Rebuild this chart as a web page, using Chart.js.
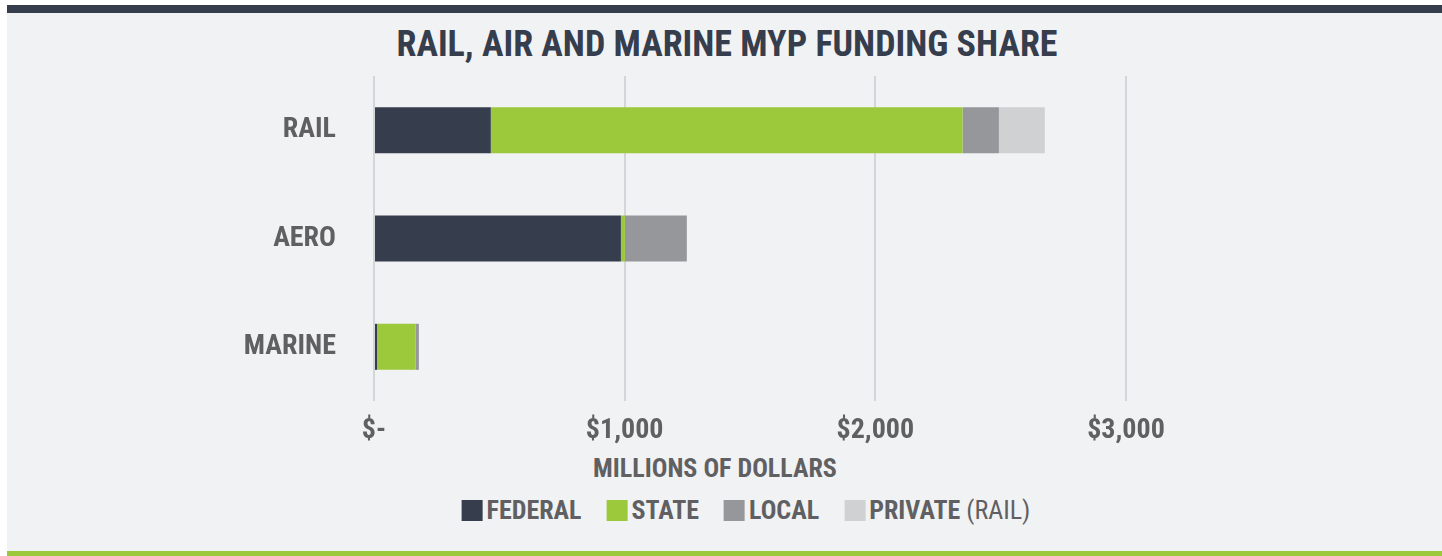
<!DOCTYPE html>
<html>
<head>
<meta charset="utf-8">
<script src="https://cdn.jsdelivr.net/npm/chart.js@4"></script>
<style>
  body { margin: 0; width: 1442px; height: 556px; background: #fff; overflow: hidden; position: relative;
         font-family: Roboto, sans-serif; font-stretch: 75%; }
  #panel { position: absolute; left: 7px; top: 5px; width: 1435px; height: 551px; background: #f1f2f4;
           border-top: 8px solid #363d4c; border-bottom: 5px solid #9bc93b; box-sizing: border-box; }
  #title { position: absolute; left: 727px; top: 26px; transform: translateX(-50%); white-space: nowrap;
           font-size: 36px; line-height: 36px; font-weight: bold; color: #363d4c; }
  #xtitle { position: absolute; left: 715px; top: 454px; transform: translateX(-50%); white-space: nowrap;
            font-size: 26px; line-height: 28px; font-weight: bold; color: #606062; }
  #legend { position: absolute; left: 746px; top: 496px; transform: translateX(-50%); white-space: nowrap;
            display: flex; gap: 25px; font-size: 26px; line-height: 28px; font-weight: bold; color: #606062; }
  #legend .item { display: flex; align-items: center; }
  #legend .box { width: 21px; height: 21px; margin-right: 4px; }
  #legend .note { font-weight: normal; }
  canvas { position: absolute; left: 0; top: 0; }
</style>
</head>
<body>
<div id="panel"></div>
<div id="title">RAIL, AIR AND MARINE MYP FUNDING SHARE</div>
<div id="xtitle">MILLIONS OF DOLLARS</div>
<div id="legend"></div>
<canvas id="chart" width="1442" height="556"></canvas>
<script>
// millions of dollars
const categories = ['RAIL', 'AERO', 'MARINE'];
const federal = [466, 985, 12];
const state = [1882, 16, 154];
const local = [145, 247, 13];
const privateRail = [183, 0, 0];

const seriesNames = ['FEDERAL', 'STATE', 'LOCAL', 'PRIVATE'];
const seriesNotes = ['', '', '', '(RAIL)'];
const seriesColors = ['#363d4c', '#9bc93b', '#96979b', '#d0d1d3'];
const xTicks = [0, 1000, 2000, 3000];

// legend
const legendEl = document.getElementById('legend');
seriesNames.forEach((name, i) => {
    const item = document.createElement('div');
    item.className = 'item';
    item.innerHTML = `<span class="box" style="background:${seriesColors[i]}"></span>${name}` +
        (seriesNotes[i] ? `&nbsp;<span class="note">${seriesNotes[i]}</span>` : '');
    legendEl.appendChild(item);
});

// narrow labels on the canvas too (Roboto has a width axis)
const condensed = {
    id: 'condensed',
    beforeUpdate: c => { c.ctx.fontStretch = 'condensed'; },
    beforeDraw: c => { c.ctx.fontStretch = 'condensed'; },
};

const ctx = document.getElementById('chart').getContext('2d');
const chart = new Chart(ctx, {
    type: 'bar',
    data: {
        labels: categories,
        datasets: [federal, state, local, privateRail].map((d, i) => ({
            label: seriesNames[i],
            data: d,
            backgroundColor: seriesColors[i],
            borderWidth: 0,
            barPercentage: 0.425,
            categoryPercentage: 1,
        })),
    },
    options: {
        indexAxis: 'y',
        responsive: false,
        animation: false,
        layout: { padding: { left: 0, top: 76, right: 316, bottom: 105 } },
        plugins: {
            legend: { display: false },
            title: { display: false },
            tooltip: { enabled: false },
        },
        scales: {
            x: {
                stacked: true,
                min: xTicks[0],
                max: xTicks[xTicks.length - 1],
                afterFit: s => { s.height = 50; },
                afterBuildTicks: s => { s.ticks = xTicks.map(v => ({ value: v })); },
                grid: { color: '#d4d5d8', lineWidth: 2, drawTicks: false },
                border: { display: false },
                ticks: {
                    padding: 13,
                    color: '#606062',
                    font: { family: 'Roboto', size: 28, weight: 'bold' },
                    callback: v => v === 0 ? '$-' : '$' + v.toLocaleString('en-US'),
                },
            },
            y: {
                stacked: true,
                afterFit: s => { s.width = 374; },
                grid: { display: false, drawTicks: false },
                border: { display: false },
                ticks: {
                    padding: 38,
                    color: '#606062',
                    font: { family: 'Roboto', size: 28, weight: 'bold' },
                },
            },
        },
    },
    plugins: [condensed],
});
</script>
</body>
</html>
